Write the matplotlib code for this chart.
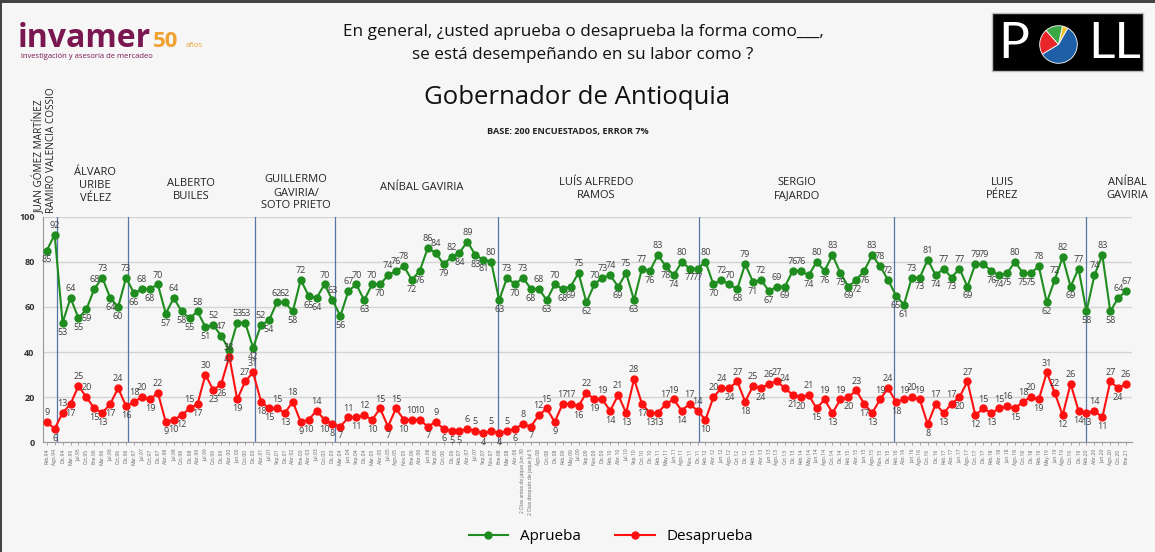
import matplotlib.pyplot as plt
import matplotlib.transforms as mtransforms
from matplotlib.lines import Line2D
from matplotlib.patches import Rectangle

plt.rcParams['font.family'] = ['Open Sans', 'DejaVu Sans']

# fechas de las encuestas (eje x)
fechas = [
    "Feb.94", "Ago.94", "Dic.94", "Mar.95", "Jul.95", "Oct.95", "Ene.96", "Mar.96", "Jul.96", "Oct.96",
    "Dic.96", "Mar.97", "Jul.97", "Oct.97", "Dic.97", "Abr.98", "Jul.98", "Oct.98", "Dic.98", "Abr.99",
    "Jul.99", "Oct.99", "Dic.99", "Abr.00", "Jun.00", "Oct.00", "Dic.00", "Abr.01", "Jul.01", "Sep.01",
    "Dic.01", "Abr.02", "Ene.03", "Abr.03", "Jul.03", "Oct.03", "Dic.03", "Mar.04", "Jun.04", "Sep.04",
    "Dic.04", "Mar.05", "Abr.05", "Jul.05", "Ago.05", "Nov.05", "Ene.06", "Abr.06", "Jun.06", "Sep.06",
    "Oct.06", "Dic.06", "Feb.07", "Abr.07", "Jul.07", "Sep.07", "Nov.07", "Ene.08", "Mar.08", "Abr.08",
    "2 Días antes de jaque Jun 30", "2 Días después de jaque Jul 5", "Ago.08", "Oct.08", "Dic.08",
    "Feb.09", "May.09", "Jul.09", "Sep.09", "Nov.09", "Dic.09", "Feb.10", "Abr.10", "Jul.10", "Sep.10",
    "Oct.10", "Dic.10", "Feb.11", "May.11", "Jun.11", "Ago.11", "Nov.11", "Dic.11", "Feb.12", "Abr.12",
    "Jun.12", "Ago.12", "Oct.12", "Dic.12", "Feb.13", "Abr.13", "Jun.13", "Ago.13", "Oct.13", "Dic.13",
    "Feb.14", "May.14", "Jun.14", "Ago.14", "Oct.14", "Dic.14", "Feb.15", "Abr.15", "Jun.15", "Ago.15",
    "Nov.15", "Dic.15", "Feb.16", "Abr.16", "Jun.16", "Ago.16", "Oct.16", "Dic.16", "Feb.17", "Abr.17",
    "Jun.17", "Ago.17", "Oct.17", "Dic.17", "Feb.18", "Abr.18", "Jun.18", "Ago.18", "Oct.18", "Dic.18",
    "Feb.19", "May.19", "Jun.19", "Ago.19", "Oct.19", "Dic.19", "Feb.20", "Abr.20", "Jun.20", "Ago.20",
    "Oct.20", "Ene.21",
]

aprueba = [
    85, 92,
    53, 64, 55, 59, 68, 73, 64, 60, 73,
    66, 68, 68, 70, 57, 64, 58, 55, 58, 51, 52, 47, 41, 53, 53, 42,
    52, 54, 62, 62, 58, 72, 65, 64, 70, 63,
    56, 67, 70, 63, 70, 70, 74, 76, 78, 72, 76, 86, 84, 79, 82, 84, 89, 83, 81, 80,
    63, 73, 70, 73, 68, 68, 63, 70, 68, 69, 75, 62, 70, 73, 74, 69, 75, 63, 77, 76, 83, 78, 74, 80, 77, 77,
    80, 70, 72, 70, 68, 79, 71, 72, 67, 69, 69, 76, 76, 74, 80, 76, 83, 75, 69, 72, 76, 83, 78, 72,
    65, 61, 73, 73, 81, 74, 77, 73, 77, 69, 79, 79, 76, 74, 75, 80, 75, 75, 78, 62, 72, 82, 69, 77,
    58, 74, 83, 58, 64, 67,
]

desaprueba = [
    9, 6,
    13, 17, 25, 20, 15, 13, 17, 24, 16,
    18, 20, 19, 22, 9, 10, 12, 15, 17, 30, 23, 26, 38, 19, 27, 31,
    18, 15, 15, 13, 18, 9, 10, 14, 10, 8,
    7, 11, 11, 12, 10, 15, 7, 15, 10, 10, 10, 7, 9, 6, 5, 5, 6, 5, 4, 5,
    4, 5, 6, 8, 7, 12, 15, 9, 17, 17, 16, 22, 19, 19, 14, 21, 13, 28, 17, 13, 13, 17, 19, 14, 17, 14,
    10, 20, 24, 24, 27, 18, 25, 24, 26, 27, 24, 21, 20, 21, 15, 19, 13, 19, 20, 23, 17, 13, 19, 24,
    18, 19, 20, 19, 8, 17, 13, 17, 20, 27, 12, 15, 13, 15, 16, 15, 18, 20, 19, 31, 22, 12, 26, 14,
    13, 14, 11, 27, 24, 26,
]

# cambios de gobernador (posicion en el eje x)
cortes = [1.25, 10.2, 26.3, 36.3, 56.9, 82.2, 106.8, 130.9]
gobernadores = ["ÁLVARO\nURIBE\nVÉLEZ", "ALBERTO\nBUILES", "GUILLERMO\nGAVIRIA/\nSOTO PRIETO",
                "ANÍBAL GAVIRIA", "LUÍS ALFREDO\nRAMOS", "SERGIO\nFAJARDO", "LUIS\nPÉREZ",
                "ANÍBAL\nGAVIRIA"]
gob_x = [6.1, 18.2, 31.4, 47.3, 69.2, 94.5, 120.4, 136.2]
gob_y = [186, 190, 193, 188, 189, 189, 189, 189]

# logo POLL
pie_vals = [5, 15, 22, 58]
pie_cols = ['#f2c12e', '#3aa845', '#e8262a', '#1f5fa8']

verde = '#1e8c1e'
rojo = '#ff1010'
W, H = 1155, 552

fig = plt.figure(figsize=(W / 100, H / 100), dpi=100, facecolor='#f6f6f6')
ax = fig.add_axes([43 / W, 1 - 442.3 / H, (1131.7 - 43) / W, (442.3 - 216.7) / H])
ax.set_facecolor('none')

x = list(range(len(aprueba)))
ax.plot(x, aprueba, color=verde, lw=1.5, marker='o', ms=5, zorder=3)
ax.plot(x, desaprueba, color=rojo, lw=1.5, marker='o', ms=5, zorder=3)


def etiquetas(vals):
    n = len(vals)
    for i, v in enumerate(vals):
        prev = vals[i - 1] if i > 0 else vals[i + 1]
        nxt = vals[i + 1] if i < n - 1 else vals[i - 1]
        arriba = v >= (prev + nxt) / 2
        ax.annotate(str(v), (i, v), xytext=(0, 3.5 if arriba else -3.5),
                    textcoords='offset points', ha='center',
                    va='bottom' if arriba else 'top', fontsize=6.5, color='#404040')


etiquetas(aprueba)
etiquetas(desaprueba)

for c in cortes:
    ax.axvline(c, color='#5575a8', lw=0.9, zorder=2)

ax.set_xlim(-0.47, 136.7)
ax.set_ylim(0, 100)
ax.set_yticks([0, 20, 40, 60, 80, 100])
ax.yaxis.grid(True, color='#d4d4d4', lw=1)
ax.set_axisbelow(True)
ax.tick_params(axis='y', length=0, labelsize=6.5, colors='#333333', pad=6)
for lab in ax.get_yticklabels():
    lab.set_fontweight('bold')
ax.set_xticks(x)
ax.set_xticklabels(fechas, rotation=90, fontsize=3.6, color='#666666')
ax.tick_params(axis='x', length=2.5, width=0.6, color='#999999', pad=2)
for s in ['top', 'right']:
    ax.spines[s].set_visible(False)
ax.spines['left'].set_color('#999999')
ax.spines['bottom'].set_color('#999999')

# nombres de los gobernadores
trans = mtransforms.blended_transform_factory(ax.transData, fig.transFigure)
for nom, gx, gy in zip(gobernadores, gob_x, gob_y):
    fig.text(gx, 1 - gy / H, nom, transform=trans, ha='center', va='center',
             fontsize=8, color='#222222', linespacing=1.25)
fig.text(40 / W, 1 - 213 / H, "JUAN GÓMEZ MARTÍNEZ", rotation=90, ha='center', va='bottom',
         fontsize=7.2, color='#222222')
fig.text(52 / W, 1 - 213 / H, "RAMIRO VALENCIA COSSIO", rotation=90, ha='center', va='bottom',
         fontsize=7.2, color='#222222')

# titulos
fig.text(583 / W, 1 - 32 / H, "En general, ¿usted aprueba o desaprueba la forma como___,",
         ha='center', va='center', fontsize=12.3, color='#111111')
fig.text(583 / W, 1 - 55 / H, "se está desempeñando en su labor como ?",
         ha='center', va='center', fontsize=12.3, color='#111111')
fig.text(577 / W, 1 - 97 / H, "Gobernador de Antioquia", ha='center', va='center',
         fontsize=18.5, color='#111111')
fig.text(568 / W, 1 - 131 / H, "BASE: 200 ENCUESTADOS, ERROR 7%", ha='center', va='center',
         fontsize=6.6, fontweight='bold', color='#222222')

# logo invamer
fig.text(18 / W, 1 - 47 / H, "invamer", fontsize=23, fontweight='bold', color='#7a1650',
         va='baseline')
fig.text(153 / W, 1 - 47 / H, "50", fontsize=16, fontweight='bold', color='#f0a030',
         va='baseline')
fig.text(186 / W, 1 - 47 / H, "años", fontsize=5.5, color='#f0a030', va='baseline')
fig.text(21 / W, 1 - 58 / H, "investigación y asesoría de mercadeo", fontsize=5.5,
         color='#7a1650', va='baseline')

# logo POLL
fig.patches.append(Rectangle((992 / W, 1 - 71 / H), 151 / W, 58 / H, transform=fig.transFigure,
                             facecolor='black', edgecolor='#bbbbbb', lw=1, zorder=1))
fig.text(998 / W, 1 - 58 / H, "P", fontsize=37, color='white', va='baseline', family='Lato')
fig.text(1088 / W, 1 - 58 / H, "LL", fontsize=37, color='white', va='baseline', family='Lato')
pie_ax = fig.add_axes([1035 / W, 1 - 68 / H, 47 / W, 47 / H])
pie_ax.set_zorder(5)
pie_ax.pie(pie_vals, colors=pie_cols, startangle=60,
           wedgeprops=dict(edgecolor='white', lw=0.6))
pie_ax.set_aspect('equal')

# marco superior / izquierdo
fig.patches.append(Rectangle((0, 1 - 3 / H), 1, 3 / H, transform=fig.transFigure,
                             facecolor='#444444', lw=0))
fig.patches.append(Rectangle((0, 0), 2 / W, 1, transform=fig.transFigure,
                             facecolor='#444444', lw=0))

# leyenda
handles = [Line2D([], [], color=verde, lw=1.5, marker='o', ms=5),
           Line2D([], [], color=rojo, lw=1.5, marker='o', ms=5)]
fig.legend(handles, ['Aprueba', 'Desaprueba'], loc='center', bbox_to_anchor=(611 / W, 15 / H),
           ncol=2, frameon=False, fontsize=11, handlelength=2.6, columnspacing=2.2)

fig.savefig('out.png', dpi=100, facecolor=fig.get_facecolor())
